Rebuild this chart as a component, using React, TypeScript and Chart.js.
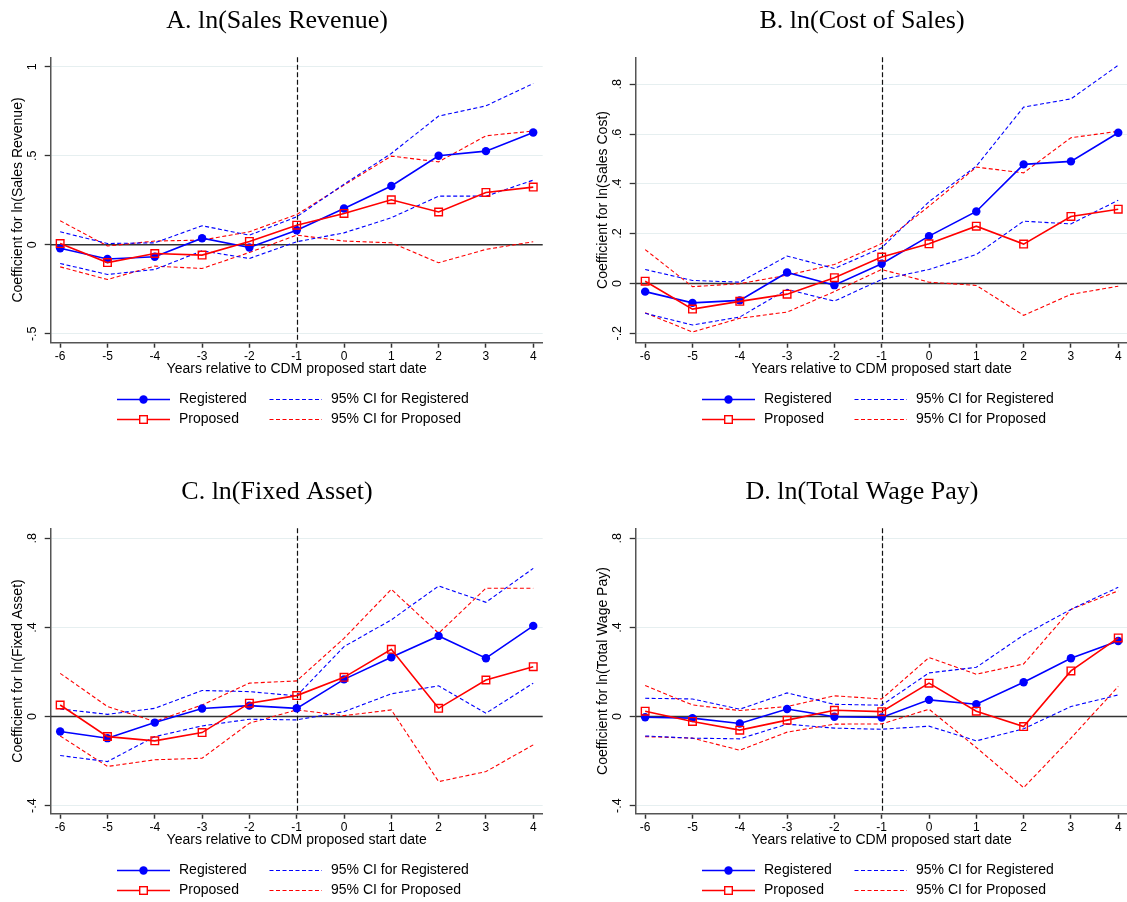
import React, { useEffect, useRef } from "react";
import { Chart, registerables } from "chart.js";

Chart.register(...registerables);

// ---------- shared axis data ----------
const years = [-6, -5, -4, -3, -2, -1, 0, 1, 2, 3, 4];
const xTickLabels = ["-6", "-5", "-4", "-3", "-2", "-1", "0", "1", "2", "3", "4"];
const xAxisTitle = "Years relative to CDM proposed start date";
const eventYear = -1;

// ---------- Panel A: ln(Sales Revenue) ----------
const salesRegistered = [-0.02, -0.08, -0.067, 0.037, -0.015, 0.082, 0.204, 0.33, 0.5, 0.526, 0.631];
const salesProposed = [0.007, -0.1, -0.049, -0.058, 0.019, 0.11, 0.176, 0.253, 0.184, 0.294, 0.324];
const salesRegHi = [0.073, 0.007, 0.011, 0.107, 0.054, 0.157, 0.34, 0.513, 0.723, 0.78, 0.906];
const salesRegLo = [-0.105, -0.167, -0.139, -0.034, -0.077, 0.017, 0.067, 0.152, 0.273, 0.273, 0.363];
const salesPropHi = [0.135, -0.007, 0.021, 0.026, 0.073, 0.17, 0.335, 0.498, 0.466, 0.612, 0.639];
const salesPropLo = [-0.124, -0.195, -0.12, -0.133, -0.043, 0.054, 0.021, 0.011, -0.101, -0.026, 0.017];
const salesYTicks = [-0.5, 0, 0.5, 1];
const salesYTickLabels = ["-.5", "0", ".5", "1"];

// ---------- Panel B: ln(Cost of Sales) ----------
const costRegistered = [-0.033, -0.078, -0.068, 0.044, -0.007, 0.079, 0.19, 0.289, 0.478, 0.49, 0.605];
const costProposed = [0.009, -0.103, -0.072, -0.043, 0.023, 0.106, 0.159, 0.23, 0.158, 0.269, 0.298];
const costRegHi = [0.056, 0.012, 0.005, 0.11, 0.06, 0.143, 0.328, 0.471, 0.708, 0.741, 0.876];
const costRegLo = [-0.12, -0.167, -0.135, -0.024, -0.071, 0.016, 0.056, 0.116, 0.25, 0.239, 0.334];
const costPropHi = [0.136, -0.013, -0.001, 0.033, 0.076, 0.16, 0.31, 0.467, 0.444, 0.585, 0.611];
const costPropLo = [-0.118, -0.195, -0.14, -0.115, -0.033, 0.056, 0.005, -0.008, -0.128, -0.044, -0.011];
const costYTicks = [-0.2, 0, 0.2, 0.4, 0.6, 0.8];
const costYTickLabels = ["-.2", "0", ".2", ".4", ".6", ".8"];

// ---------- Panel C: ln(Fixed Asset) ----------
const assetRegistered = [-0.067, -0.097, -0.027, 0.036, 0.049, 0.037, 0.167, 0.266, 0.362, 0.262, 0.407];
const assetProposed = [0.052, -0.09, -0.109, -0.072, 0.06, 0.094, 0.176, 0.302, 0.037, 0.164, 0.224];
const assetRegHi = [0.034, 0.01, 0.037, 0.117, 0.112, 0.093, 0.314, 0.434, 0.586, 0.513, 0.665];
const assetRegLo = [-0.175, -0.202, -0.09, -0.042, -0.012, -0.015, 0.022, 0.102, 0.138, 0.015, 0.15];
const assetPropHi = [0.194, 0.045, -0.022, 0.052, 0.15, 0.16, 0.351, 0.571, 0.374, 0.576, 0.576];
const assetPropLo = [-0.087, -0.224, -0.194, -0.187, -0.03, 0.03, 0.004, 0.03, -0.292, -0.247, -0.127];
const assetYTicks = [-0.4, 0, 0.4, 0.8];
const assetYTickLabels = ["-.4", "0", ".4", ".8"];

// ---------- Panel D: ln(Total Wage Pay) ----------
const wageRegistered = [-0.003, -0.007, -0.031, 0.034, -0.001, -0.004, 0.075, 0.055, 0.154, 0.262, 0.339];
const wageProposed = [0.024, -0.022, -0.061, -0.016, 0.028, 0.022, 0.15, 0.024, -0.045, 0.205, 0.353];
const wageRegHi = [0.082, 0.079, 0.033, 0.106, 0.055, 0.051, 0.196, 0.221, 0.366, 0.481, 0.58];
const wageRegLo = [-0.087, -0.097, -0.1, -0.034, -0.052, -0.057, -0.043, -0.109, -0.055, 0.045, 0.097];
const wagePropHi = [0.139, 0.052, 0.027, 0.045, 0.093, 0.079, 0.265, 0.19, 0.236, 0.481, 0.564];
const wagePropLo = [-0.09, -0.097, -0.151, -0.07, -0.034, -0.033, 0.033, -0.139, -0.319, -0.097, 0.135];
const wageYTicks = [-0.4, 0, 0.4, 0.8];
const wageYTickLabels = ["-.4", "0", ".4", ".8"];

// ---------- legend labels ----------
const legendLabels = ["Registered", "Proposed", "95% CI for Registered", "95% CI for Proposed"];

const BLUE = "#0000ff";
const RED = "#ff0000";
const SANS = "'Liberation Sans', Arial, sans-serif";
const SERIF = "'Liberation Serif', 'Times New Roman', serif";

const panels = [
  {
    title: "A. ln(Sales Revenue)",
    yTitle: "Coefficient for ln(Sales Revenue)",
    reg: salesRegistered, prop: salesProposed,
    regHi: salesRegHi, regLo: salesRegLo, propHi: salesPropHi, propLo: salesPropLo,
    yTicks: salesYTicks, yLabels: salesYTickLabels, yMin: -0.55, yMax: 1.053,
  },
  {
    title: "B. ln(Cost of Sales)",
    yTitle: "Coefficient for ln(Sales Cost)",
    reg: costRegistered, prop: costProposed,
    regHi: costRegHi, regLo: costRegLo, propHi: costPropHi, propLo: costPropLo,
    yTicks: costYTicks, yLabels: costYTickLabels, yMin: -0.238, yMax: 0.908,
  },
  {
    title: "C. ln(Fixed Asset)",
    yTitle: "Coefficient for ln(Fixed Asset)",
    reg: assetRegistered, prop: assetProposed,
    regHi: assetRegHi, regLo: assetRegLo, propHi: assetPropHi, propLo: assetPropLo,
    yTicks: assetYTicks, yLabels: assetYTickLabels, yMin: -0.436, yMax: 0.845,
  },
  {
    title: "D. ln(Total Wage Pay)",
    yTitle: "Coefficient for ln(Total Wage Pay)",
    reg: wageRegistered, prop: wageProposed,
    regHi: wageRegHi, regLo: wageRegLo, propHi: wagePropHi, propLo: wagePropLo,
    yTicks: wageYTicks, yLabels: wageYTickLabels, yMin: -0.436, yMax: 0.845,
  },
];

const PANEL_W = 586;
const PANEL_H = 471;
const CIRCLE_R = 4.2;
const SQUARE_SIDE = 7.6;

const toPoints = (vals: number[]) => vals.map((v, i) => ({ x: years[i], y: v }));

function makePlugin(title: string) {
  return {
    id: "stataDecor",
    beforeDatasetsDraw(chart: any) {
      const { ctx, chartArea, scales } = chart;
      const x = scales.x;
      const y = scales.y;
      ctx.save();
      // zero line
      const y0 = y.getPixelForValue(0);
      ctx.strokeStyle = "#333333";
      ctx.lineWidth = 1.5;
      ctx.beginPath();
      ctx.moveTo(chartArea.left, y0);
      ctx.lineTo(chartArea.right, y0);
      ctx.stroke();
      // vertical dashed line at event year
      const xe = Math.round(x.getPixelForValue(eventYear)) + 0.5;
      ctx.strokeStyle = "#111111";
      ctx.lineWidth = 1.2;
      ctx.setLineDash([5, 2.5]);
      ctx.beginPath();
      ctx.moveTo(xe, chartArea.top);
      ctx.lineTo(xe, chartArea.bottom);
      ctx.stroke();
      ctx.restore();
    },
    afterDraw(chart: any) {
      const { ctx } = chart;
      ctx.save();
      // title
      ctx.fillStyle = "#000";
      ctx.font = `26px ${SERIF}`;
      ctx.textAlign = "center";
      ctx.textBaseline = "middle";
      ctx.fillText(title, 277, 21);

      // legend
      const row1 = 399.5;
      const row2 = 419.5;
      ctx.font = `14px ${SANS}`;
      ctx.textAlign = "left";
      ctx.textBaseline = "middle";
      // Registered
      ctx.strokeStyle = BLUE;
      ctx.lineWidth = 1.6;
      ctx.setLineDash([]);
      ctx.beginPath();
      ctx.moveTo(117, row1);
      ctx.lineTo(170, row1);
      ctx.stroke();
      ctx.fillStyle = BLUE;
      ctx.beginPath();
      ctx.arc(143.5, row1, CIRCLE_R, 0, Math.PI * 2);
      ctx.fill();
      ctx.fillStyle = "#000";
      ctx.fillText(legendLabels[0], 179, row1);
      // Proposed
      ctx.strokeStyle = RED;
      ctx.beginPath();
      ctx.moveTo(117, row2);
      ctx.lineTo(170, row2);
      ctx.stroke();
      ctx.lineWidth = 1.4;
      ctx.fillStyle = "#fff";
      ctx.fillRect(143.5 - SQUARE_SIDE / 2, row2 - SQUARE_SIDE / 2, SQUARE_SIDE, SQUARE_SIDE);
      ctx.strokeRect(143.5 - SQUARE_SIDE / 2, row2 - SQUARE_SIDE / 2, SQUARE_SIDE, SQUARE_SIDE);
      ctx.fillStyle = "#000";
      ctx.fillText(legendLabels[1], 179, row2);
      // CI lines
      ctx.lineWidth = 1.1;
      ctx.setLineDash([4, 2.5]);
      ctx.strokeStyle = BLUE;
      ctx.beginPath();
      ctx.moveTo(269.5, row1);
      ctx.lineTo(322, row1);
      ctx.stroke();
      ctx.strokeStyle = RED;
      ctx.beginPath();
      ctx.moveTo(269.5, row2);
      ctx.lineTo(322, row2);
      ctx.stroke();
      ctx.setLineDash([]);
      ctx.fillStyle = "#000";
      ctx.fillText(legendLabels[2], 331, row1);
      ctx.fillText(legendLabels[3], 331, row2);
      ctx.restore();
    },
  };
}

function Panel({ cfg, left, top }: { cfg: any; left: number; top: number }) {
  const ref = useRef<HTMLCanvasElement | null>(null);
  useEffect(() => {
    if (!ref.current) return;
    const ciStyle = (color: string) => ({
      borderColor: color,
      borderWidth: 1.1,
      borderDash: [4, 2.5],
      pointRadius: 0,
      fill: false,
      tension: 0,
    });
    const chart = new Chart(ref.current, {
      type: "line",
      data: {
        datasets: [
          {
            label: legendLabels[1],
            data: toPoints(cfg.prop),
            borderColor: RED,
            borderWidth: 1.6,
            pointStyle: "rect",
            pointRadius: SQUARE_SIDE / 2 / Math.SQRT1_2,
            pointBorderColor: RED,
            pointBackgroundColor: "rgba(255,255,255,0)",
            pointBorderWidth: 1.4,
            fill: false,
            tension: 0,
            order: 0,
          },
          {
            label: legendLabels[0],
            data: toPoints(cfg.reg),
            borderColor: BLUE,
            borderWidth: 1.6,
            pointStyle: "circle",
            pointRadius: CIRCLE_R,
            pointBorderWidth: 0,
            pointBackgroundColor: BLUE,
            pointBorderColor: BLUE,
            fill: false,
            tension: 0,
            order: 1,
          },
          { label: legendLabels[2] + " hi", data: toPoints(cfg.regHi), ...ciStyle(BLUE), order: 2 },
          { label: legendLabels[2] + " lo", data: toPoints(cfg.regLo), ...ciStyle(BLUE), order: 2 },
          { label: legendLabels[3] + " hi", data: toPoints(cfg.propHi), ...ciStyle(RED), order: 2 },
          { label: legendLabels[3] + " lo", data: toPoints(cfg.propLo), ...ciStyle(RED), order: 2 },
        ],
      } as any,
      options: {
        responsive: false,
        animation: false,
        devicePixelRatio: 1,
        events: [],
        layout: { padding: { left: 0, right: 43.3, top: 57.3, bottom: 93.1 } },
        plugins: {
          legend: { display: false },
          title: { display: false },
          tooltip: { enabled: false },
        },
        scales: {
          x: {
            type: "linear",
            min: -6.2,
            max: 4.2,
            afterBuildTicks: (s: any) => {
              s.ticks = years.map((v) => ({ value: v }));
            },
            afterFit: (s: any) => {
              s.height = 35.2;
            },
            ticks: {
              callback: (v: any) => xTickLabels[years.indexOf(Number(v))],
              font: { size: 12, family: SANS },
              color: "#000",
              padding: 2,
              maxRotation: 0,
              minRotation: 0,
              autoSkip: false,
            },
            grid: {
              drawOnChartArea: false,
              drawTicks: true,
              tickLength: 5,
              tickColor: "#333",
              tickWidth: 1.5,
            },
            border: { display: true, color: "#555", width: 1.5 },
            title: {
              display: true,
              text: xAxisTitle,
              font: { size: 14, family: SANS },
              color: "#000",
              padding: { top: 0, bottom: 0 },
            },
          },
          y: {
            type: "linear",
            min: cfg.yMin,
            max: cfg.yMax,
            afterBuildTicks: (s: any) => {
              s.ticks = cfg.yTicks.map((v: number) => ({ value: v }));
            },
            afterFit: (s: any) => {
              s.width = 50.7;
            },
            ticks: {
              callback: (v: any) => cfg.yLabels[cfg.yTicks.indexOf(Number(v))],
              font: { size: 12.5, family: SANS },
              color: "#000",
              minRotation: 90,
              maxRotation: 90,
              crossAlign: "center",
              padding: 4.5,
              autoSkip: false,
            },
            grid: {
              color: "#e6eff0",
              lineWidth: 1,
              drawTicks: true,
              tickLength: 6,
              tickColor: "#333",
              tickWidth: 1.3,
            },
            border: { display: true, color: "#555", width: 1.5 },
            title: {
              display: true,
              text: cfg.yTitle,
              font: { size: 14, family: SANS },
              color: "#000",
              padding: { top: 10, bottom: 0 },
            },
          },
        },
      } as any,
      plugins: [makePlugin(cfg.title)],
    });
    return () => chart.destroy();
  }, [cfg]);
  return (
    <canvas
      ref={ref}
      width={PANEL_W}
      height={PANEL_H}
      style={{ position: "absolute", left, top, width: PANEL_W, height: PANEL_H, display: "block" }}
    />
  );
}

export default function App() {
  return (
    <div
      style={{
        position: "fixed",
        left: 0,
        top: 0,
        width: 1127,
        height: 902,
        overflow: "hidden",
        background: "#ffffff",
      }}
    >
      {panels.map((p, i) => (
        <Panel key={p.title} cfg={p} left={i % 2 === 0 ? 0 : 585} top={i < 2 ? 0 : PANEL_H} />
      ))}
    </div>
  );
}
